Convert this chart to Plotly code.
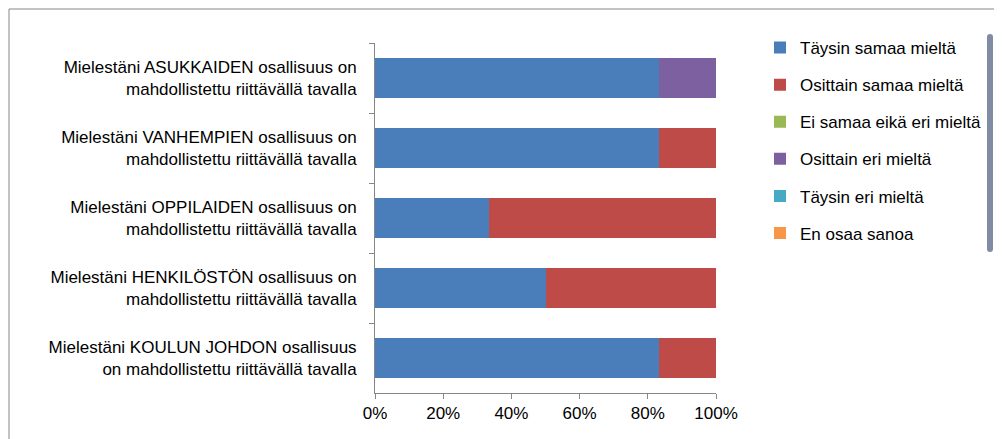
import plotly.graph_objects as go

categories = [
    "Mielestäni ASUKKAIDEN osallisuus on<br>mahdollistettu riittävällä tavalla",
    "Mielestäni VANHEMPIEN osallisuus on<br>mahdollistettu riittävällä tavalla",
    "Mielestäni OPPILAIDEN osallisuus on<br>mahdollistettu riittävällä tavalla",
    "Mielestäni HENKILÖSTÖN osallisuus on<br>mahdollistettu riittävällä tavalla",
    "Mielestäni KOULUN JOHDON osallisuus<br>on mahdollistettu riittävällä tavalla",
]
series_names = ["Täysin samaa mieltä", "Osittain samaa mieltä", "Ei samaa eikä eri mieltä",
                "Osittain eri mieltä", "Täysin eri mieltä", "En osaa sanoa"]
taysin_samaa = [83.3, 83.3, 33.3, 50.0, 83.3]
osittain_samaa = [0, 16.7, 66.7, 50.0, 16.7]
ei_samaa_eika_eri = [0, 0, 0, 0, 0]
osittain_eri = [16.7, 0, 0, 0, 0]
taysin_eri = [0, 0, 0, 0, 0]
en_osaa = [0, 0, 0, 0, 0]
values = [taysin_samaa, osittain_samaa, ei_samaa_eika_eri, osittain_eri, taysin_eri, en_osaa]
colors = ["#4A7EBB", "#BE4B48", "#98B954", "#7D60A0", "#46AAC5", "#F79646"]
x_ticks = [0, 20, 40, 60, 80, 100]
x_tick_labels = ["0%", "20%", "40%", "60%", "80%", "100%"]

fig = go.Figure()
for i, (n, v, c) in enumerate(zip(series_names, values, colors)):
    fig.add_trace(go.Bar(y=categories, x=v, name=n, orientation="h",
                         marker=dict(color=c, line=dict(width=0)), legendgroup=str(i)))

L, R, T, B = 367, 294, 35, 54
pw = 1002 - L - R
ph = 439 - T - B
fig.update_layout(
    width=1002, height=439, barmode="stack", bargap=0.44,
    margin=dict(l=L, r=R, t=T, b=B),
    paper_bgcolor="white", plot_bgcolor="white",
    font=dict(family="Liberation Sans, Arial", size=17, color="#000"),
    legend=dict(x=(752 - L) / pw, y=1 + (T - 22) / ph, xanchor="left", yanchor="top",
                traceorder="grouped", tracegroupgap=12, font=dict(size=17)),
    xaxis=dict(range=[0, 100], tickvals=x_ticks, ticktext=x_tick_labels, automargin=False,
               showgrid=False, showline=True, linecolor="#868686", ticks="outside",
               tickcolor="#868686", ticklen=5, zeroline=False),
    yaxis=dict(autorange="reversed", showline=True, linecolor="#868686", ticks="outside",
               tickson="boundaries", tickcolor="#868686", ticklen=5, showgrid=False,
               automargin=False, ticklabelstandoff=14),
    shapes=[dict(type="rect", xref="paper", yref="paper",
                 x0=-(L - 1) / pw, x1=(1002 - L - 2) / pw,
                 y0=-(B - 2) / ph, y1=(439 - B - 1) / ph,
                 line=dict(color="#868686", width=1))],
)
fig.write_html("out.html")
